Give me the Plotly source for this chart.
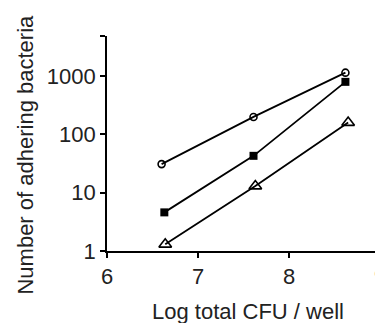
import plotly.graph_objects as go

x_circle = [6.60, 7.61, 8.62]
y_circle = [31, 200, 1150]
x_square = [6.63, 7.61, 8.62]
y_square = [4.6, 43, 800]
x_triangle = [6.64, 7.63, 8.65]
y_triangle = [1.3, 13, 160]

y_tickvals = [1, 10, 100, 1000, 4900]
y_ticktext = ["1", "10", "100", "1000", ""]
x_tickvals = [6, 7, 8, 9]

fig = go.Figure()
fig.add_trace(go.Scatter(x=x_circle, y=y_circle, mode="lines+markers",
                         line=dict(color="black", width=1.8),
                         marker=dict(symbol="circle-open", size=7, color="black", line=dict(width=1.6))))
fig.add_trace(go.Scatter(x=x_square, y=y_square, mode="lines+markers",
                         line=dict(color="black", width=1.8),
                         marker=dict(symbol="square", size=8, color="black")))
fig.add_trace(go.Scatter(x=x_triangle, y=y_triangle, mode="lines+markers",
                         line=dict(color="black", width=1.8),
                         marker=dict(symbol="triangle-up-open", size=11, color="black", line=dict(width=1.6))))

font = dict(family="Liberation Sans, Arial, sans-serif", color="#222")
fig.update_layout(
    width=383, height=323,
    margin=dict(l=99, r=11, t=28, b=80),
    paper_bgcolor="white", plot_bgcolor="white",
    showlegend=False,
    font=font,
    xaxis=dict(range=[6, 9], tickvals=x_tickvals, showline=True, linecolor="black", linewidth=1.6,
               ticks="outside", ticklen=5, tickwidth=1.6, tickcolor="black", showgrid=False, zeroline=False,
               automargin=False, ticklabeloverflow="allow", tickfont=dict(size=22)),
    yaxis=dict(type="log", range=[0, 3.69], tickvals=y_tickvals, ticktext=y_ticktext, showline=True,
               linecolor="black", linewidth=1.6, ticks="outside", ticklen=5, tickwidth=1.6, tickcolor="black",
               showgrid=False, zeroline=False, tickfont=dict(size=22), automargin=False),
    annotations=[
        dict(text="Log total CFU / well", xref="paper", yref="paper", x=0.5165, y=-0.2837,
             xanchor="center", yanchor="middle", showarrow=False, font=dict(size=22)),
        dict(text="Number of adhering bacteria", xref="paper", yref="paper", x=-0.302, y=0.4465,
             xanchor="center", yanchor="middle", textangle=-90, showarrow=False, font=dict(size=22)),
    ],
)
fig.write_html("out.html")
